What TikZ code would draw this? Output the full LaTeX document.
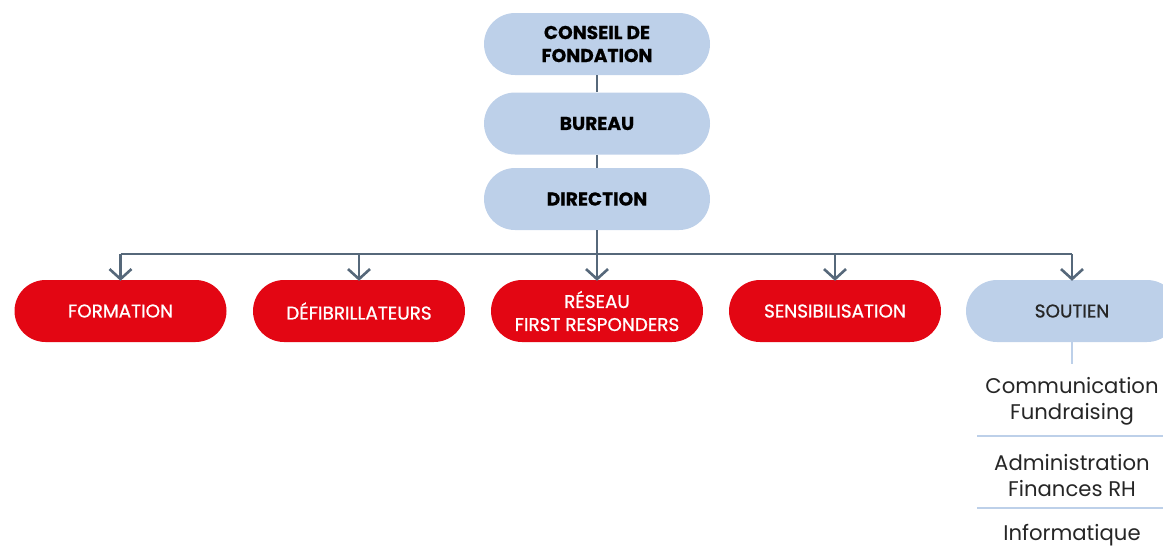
\documentclass[tikz,border=0pt]{standalone}
\usepackage{fontspec}
\setmainfont{Poppins}
\newfontfamily\pmed{Poppins}[FakeBold=0.9]
\newfontfamily\pheavy{Poppins}[BoldFeatures={FakeBold=0.6}]
\usetikzlibrary{arrows.meta}
\definecolor{lblue}{HTML}{BDD0E9}
\definecolor{rred}{HTML}{E30613}
\definecolor{slate}{HTML}{56687A}
\tikzset{
  pill/.style={rounded corners=31pt, minimum width=226pt, minimum height=62pt, inner sep=0pt, align=center},
  topbox/.style={pill, fill=lblue, text=black, font=\fontsize{18.6}{23}\pheavy\bfseries},
  redbox/.style={pill, minimum width=212pt, fill=rred, text=white, font=\fontsize{18.4}{23}\pmed},
  supbox/.style={pill, minimum width=212pt, fill=lblue, text=black!85, font=\fontsize{18.4}{23}\pmed},
  item/.style={align=center, text=black!85, font=\fontsize{21.2}{26}\selectfont},
  conn/.style={draw=slate, line width=2.6pt},
  arr/.style={conn, -{Straight Barb[length=10pt,width=22pt,line width=2.6pt]}},
  sep/.style={draw=lblue, line width=2.2pt}
}
\begin{document}
\begin{tikzpicture}[x=1pt,y=-1pt]
\useasboundingbox (0,0) rectangle (1163,547);
\clip (0,0) rectangle (1163,547);
\node[topbox] (conseil) at (597,44) {CONSEIL DE\\FONDATION};
\node[topbox] (bureau) at (597,123.5) {BUREAU};
\node[topbox] (direction) at (597,199) {DIRECTION};
\node[redbox] (formation) at (120.5,311) {FORMATION};
\node[redbox] (defib) at (359,311) {DÉFIBRILLATEURS};
\node[redbox] (reseau) at (597,311) {RÉSEAU\\FIRST RESPONDERS};
\node[redbox] (sensib) at (835,311) {SENSIBILISATION};
\node[supbox] (soutien) at (1072,311) {SOUTIEN};
\coordinate (hub) at (597,254);
\draw[conn] (conseil.south) -- (bureau.north);
\draw[conn] (bureau.south) -- (direction.north);
\draw[conn] (direction.south) -- (hub);
\draw[conn] (formation.north |- hub) -- (soutien.north |- hub);
\foreach \n in {formation,defib,reseau,sensib,soutien}
  \draw[arr] (\n.north |- hub) -- ([yshift=-1pt]\n.north);
\node[item] (comm) at (1072,401) {Communication\\Fundraising};
\node[item] (admin) at (1072,476) {Administration\\Finances RH};
\node[item] (info) at (1072,535) {Informatique};
\draw[sep] ([yshift=2pt]soutien.south) -- (1072,364);
\coordinate (s1l) at (977,436);
\coordinate (s1r) at (1163,436);
\coordinate (s2l) at (977,508);
\coordinate (s2r) at (1163,508);
\draw[sep] (s1l) -- (s1r);
\draw[sep] (s2l) -- (s2r);
\end{tikzpicture}
\end{document}
